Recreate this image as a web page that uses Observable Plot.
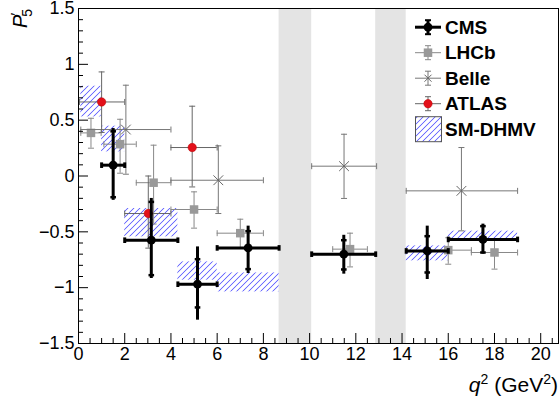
<!DOCTYPE html>
<html><head><meta charset="utf-8">
<script src="https://cdn.jsdelivr.net/npm/d3@7"></script>
<script src="https://cdn.jsdelivr.net/npm/@observablehq/plot@0.6"></script>
<style>body{margin:0;background:#fff} svg{display:block}</style>
</head><body>
<svg width="0" height="0" style="position:absolute">
  <defs>
    <pattern id="smHatch" patternUnits="userSpaceOnUse" width="6" height="6">
      <path d="M0,5.45L5.45,0L6,0L6,0.55L0.55,6L0,6Z M0,0L0.55,0L0,0.55Z M6,5.45L6,6L5.45,6Z" fill="#4646ff" stroke="none"/>
    </pattern>
  </defs>
</svg>
<div id="chart"></div>
<script>
// ---------------- data ----------------
// vetoed charmonium regions (q^2 in GeV^2)
const vetoLo = [8.68, 12.86];
const vetoHi = [10.09, 14.18];

// CMS
const cmsLo = [1, 2, 4.3, 6, 10.09, 14.18, 16];
const cmsHi = [2, 4.3, 6, 8.68, 12.86, 16, 19];
const cmsX  = [1.5, 3.15, 5.15, 7.34, 11.48, 15.09, 17.5];
const cmsY  = [0.097, -0.575, -0.969, -0.644, -0.700, -0.671, -0.568];
const cmsStatHi = [0.40, -0.232, -0.745, -0.494, -0.575, -0.539, -0.449];
const cmsStatLo = [-0.19, -0.888, -1.177, -0.834, -0.837, -0.864, -0.685];
const cmsTotHi  = [0.425, -0.201, -0.635, -0.449, -0.531, -0.449, -0.431];
const cmsTotLo  = [-0.218, -0.918, -1.291, -0.873, -0.879, -0.927, -0.700];

// LHCb
const lhcbLo = [0.1, 1.1, 2.5, 4, 6, 11, 15, 17];
const lhcbHi = [0.98, 2.5, 4, 6, 8, 12.5, 17, 19];
const lhcbX  = [0.54, 1.8, 3.25, 5, 7, 11.75, 16, 18];
const lhcbY  = [0.386, 0.285, -0.06, -0.30, -0.512, -0.655, -0.664, -0.685];
const lhcbErrHi = [0.517, 0.508, 0.276, -0.142, -0.387, -0.512, -0.553, -0.567];
const lhcbErrLo = [0.249, 0.025, -0.43, -0.467, -0.644, -0.814, -0.79, -0.834];

// Belle
const belleLo = [0.1, 4, 10.09, 14.18];
const belleHi = [4, 8, 12.9, 19];
const belleX  = [2.05, 6.05, 11.49, 16.57];
const belleY  = [0.416, -0.038, 0.088, -0.133];
const belleErrHi = [0.813, 0.27, 0.374, 0.255];
const belleErrLo = [0.016, -0.336, -0.201, -0.491];

// ATLAS
const atlasLo = [0.04, 2, 4];
const atlasHi = [2, 4, 6];
const atlasX  = [1.0, 3.02, 4.92];
const atlasY  = [0.663, -0.336, 0.255];
const atlasErrHi = [0.932, 0.0, 0.625];
const atlasErrLo = [0.39, -0.646, -0.098];

// SM-DHMV prediction boxes
const smLo  = [0.1, 1, 2, 4.3, 6, 14.18, 16];
const smHi  = [0.98, 2, 4.3, 6, 8.68, 16, 19];
const smYlo = [0.529, 0.216, -0.545, -0.933, -1.038, -0.760, -0.575];
const smYhi = [0.804, 0.446, -0.291, -0.769, -0.868, -0.626, -0.494];

// axes
const xMajor = [0, 2, 4, 6, 8, 10, 12, 14, 16, 18, 20];
const yMajor = [-1.5, -1, -0.5, 0, 0.5, 1, 1.5];
const legendNames = ["CMS", "LHCb", "Belle", "ATLAS", "SM-DHMV"];

// ---------------- tables ----------------
const veto = vetoLo.map((lo, i) => ({lo, hi: vetoHi[i]}));
const cms = cmsX.map((x, i) => ({x, y: cmsY[i], lo: cmsLo[i], hi: cmsHi[i], shi: cmsStatHi[i], slo: cmsStatLo[i], thi: cmsTotHi[i], tlo: cmsTotLo[i]}));
const mk = (X, Y, LO, HI, EH, EL) => X.map((x, i) => ({x, y: Y[i], lo: LO[i], hi: HI[i], ehi: EH[i], elo: EL[i]}));
const lhcb = mk(lhcbX, lhcbY, lhcbLo, lhcbHi, lhcbErrHi, lhcbErrLo);
const belle = mk(belleX, belleY, belleLo, belleHi, belleErrHi, belleErrLo);
const atlas = mk(atlasX, atlasY, atlasLo, atlasHi, atlasErrHi, atlasErrLo);
const sm = smLo.map((lo, i) => ({lo, hi: smHi[i], ylo: smYlo[i], yhi: smYhi[i]}));

const xMax = 20.77;
const xMinor = d3.range(0, xMax, 0.5).filter(v => v % 2 !== 0);
const yMinor = d3.range(-15, 16).map(v => v / 10).filter(v => Math.abs(v * 2 - Math.round(v * 2)) > 1e-9);

// cap symbols
const capH = {draw(ctx, size) { const r = Math.sqrt(size / Math.PI); ctx.moveTo(-r, 0); ctx.lineTo(r, 0); }};
const capV = {draw(ctx, size) { const r = Math.sqrt(size / Math.PI); ctx.moveTo(0, -r); ctx.lineTo(0, r); }};

function errMarks(data, color, sw) {
  return [
    Plot.ruleY(data, {y: "y", x1: "lo", x2: "hi", stroke: color, strokeWidth: sw}),
    Plot.ruleX(data, {x: "x", y1: "elo", y2: "ehi", stroke: color, strokeWidth: sw}),
    Plot.dot(data, {x: "x", y: "ehi", symbol: capH, r: 3, stroke: color, strokeWidth: sw, fill: "none"}),
    Plot.dot(data, {x: "x", y: "elo", symbol: capH, r: 3, stroke: color, strokeWidth: sw, fill: "none"}),
    Plot.dot(data, {x: "lo", y: "y", symbol: capV, r: 3, stroke: color, strokeWidth: sw, fill: "none"}),
    Plot.dot(data, {x: "hi", y: "y", symbol: capV, r: 3, stroke: color, strokeWidth: sw, fill: "none"})
  ];
}

const FONT = "'Liberation Sans', Arial, Helvetica, sans-serif";

const plot = Plot.plot({
  width: 560, height: 403,
  marginLeft: 78, marginRight: 2, marginTop: 8, marginBottom: 60,
  x: {domain: [0, xMax], label: null},
  y: {domain: [-1.5, 1.5], label: null},
  color: {type: "identity"},
  style: {fontFamily: FONT, fontSize: "18px", background: "white", color: "black"},
  marks: [
    Plot.rect(veto, {x1: "lo", x2: "hi", fill: "#e4e4e4"}),
    Plot.rect(sm, {x1: "lo", x2: "hi", y1: "ylo", y2: "yhi", fill: () => "url(#smHatch)"}),
    // LHCb
    ...errMarks(lhcb, "#888", 1),
    Plot.dot(lhcb, {x: "x", y: "y", symbol: "square", r: 4.8, fill: "#999", stroke: "none"}),
    // Belle
    ...errMarks(belle, "#777", 1),
    Plot.dot(belle, {x: "x", y: "y", symbol: "times", r: 4.5, stroke: "#666", strokeWidth: 1, fill: "none"}),
    // ATLAS
    ...errMarks(atlas, "#666", 1),
    Plot.dot(atlas, {x: "x", y: "y", r: 4.2, fill: "#e3101a", stroke: "#b00", strokeWidth: 0.5}),
    // CMS
    Plot.ruleY(cms, {y: "y", x1: "lo", x2: "hi", stroke: "black", strokeWidth: 3}),
    Plot.ruleX(cms, {x: "x", y1: "tlo", y2: "thi", stroke: "black", strokeWidth: 3}),
    Plot.dot(cms, {x: "x", y: "shi", symbol: capH, r: 2.8, stroke: "black", strokeWidth: 2.5, fill: "none"}),
    Plot.dot(cms, {x: "x", y: "slo", symbol: capH, r: 2.8, stroke: "black", strokeWidth: 2.5, fill: "none"}),
    Plot.dot(cms, {x: "lo", y: "y", symbol: capV, r: 2.8, stroke: "black", strokeWidth: 3, fill: "none"}),
    Plot.dot(cms, {x: "hi", y: "y", symbol: capV, r: 2.8, stroke: "black", strokeWidth: 3, fill: "none"}),
    Plot.dot(cms, {x: "x", y: "y", r: 4.4, fill: "black", stroke: "none"}),
    // frame & axes
    Plot.frame({stroke: "black"}),
    Plot.axisX({ticks: xMajor, tickSize: -10, tickFormat: () => "", label: null}),
    Plot.axisX({ticks: xMinor, tickSize: -5, tickFormat: () => "", label: null}),
    Plot.axisX({ticks: xMajor, tickSize: 0, tickPadding: 4, fontSize: 18, tickFormat: d3.format("~g"), label: null}),
    Plot.axisY({ticks: yMajor, tickSize: -10, tickFormat: () => "", label: null}),
    Plot.axisY({ticks: yMinor, tickSize: -5, tickFormat: () => "", label: null}),
    Plot.axisY({ticks: yMajor, tickSize: 0, tickPadding: 4, fontSize: 18, tickFormat: d3.format("~g"), label: null})
  ]
});

document.getElementById("chart").appendChild(plot);

// ---------------- decorations (legend, titles) ----------------
const svg = d3.select(plot);

const lg = svg.append("g").attr("font-family", FONT).attr("text-anchor", "start");
const lx0 = 415, lx1 = 441, lxc = 428, ltx = 445, lb0 = 33.7, lstep = 25.5;
const legendStyle = [
  {line: "black", w: 3, marker: "cms"},
  {line: "#888", w: 1, marker: "lhcb"},
  {line: "#777", w: 1, marker: "belle"},
  {line: "#666", w: 1, marker: "atlas"},
  {marker: "sm"}
];
legendNames.forEach((name, i) => {
  const base = lb0 + i * lstep, cy = base - 6.5;
  const st = legendStyle[i];
  if (st.marker === "sm") {
    lg.append("rect").attr("x", lx0 + 0.5).attr("y", cy - 12.5).attr("width", lx1 - lx0).attr("height", 25)
      .attr("fill", "url(#smHatch)").attr("stroke", "#555").attr("stroke-width", 1);
  } else {
    lg.append("line").attr("x1", lx0).attr("x2", lx1).attr("y1", cy).attr("y2", cy)
      .attr("stroke", st.line).attr("stroke-width", st.w);
    lg.append("line").attr("x1", lxc).attr("x2", lxc).attr("y1", cy - 7).attr("y2", cy + 7)
      .attr("stroke", st.line).attr("stroke-width", st.w);
    [cy - 7, cy + 7].forEach(yy => lg.append("line").attr("x1", lxc - 3).attr("x2", lxc + 3)
      .attr("y1", yy).attr("y2", yy).attr("stroke", st.line).attr("stroke-width", st.w === 3 ? 2 : 1));
    if (st.marker === "cms") lg.append("circle").attr("cx", lxc).attr("cy", cy).attr("r", 4.4).attr("fill", "black");
    if (st.marker === "lhcb") lg.append("rect").attr("x", lxc - 4.25).attr("y", cy - 4.25).attr("width", 8.5).attr("height", 8.5).attr("fill", "#999");
    if (st.marker === "belle") lg.append("path").attr("d", `M${lxc-3.5},${cy-3.5}L${lxc+3.5},${cy+3.5}M${lxc-3.5},${cy+3.5}L${lxc+3.5},${cy-3.5}`).attr("stroke", "#666").attr("stroke-width", 1);
    if (st.marker === "atlas") lg.append("circle").attr("cx", lxc).attr("cy", cy).attr("r", 4.2).attr("fill", "#e3101a").attr("stroke", "#b00").attr("stroke-width", 0.5);
  }
  lg.append("text").attr("x", ltx).attr("y", base).attr("font-size", 19).attr("font-weight", "bold")
    .attr("text-anchor", "start").attr("fill", "black").text(name);
});

// x title: q^2 (GeV^2)
const xt = svg.append("text").attr("x", 558).attr("y", 391.7).attr("text-anchor", "end")
  .attr("font-family", FONT).attr("font-size", 21).attr("fill", "black");
xt.append("tspan").attr("font-style", "italic").text("q");
xt.append("tspan").attr("font-size", 14).attr("dy", -8).text("2");
xt.append("tspan").attr("dy", 8).text(" (GeV");
xt.append("tspan").attr("font-size", 14).attr("dy", -8).text("2");
xt.append("tspan").attr("dy", 8).text(")");

// y title: P'_5
const yt = svg.append("text").attr("transform", "translate(27,9) rotate(-90)").attr("text-anchor", "end")
  .attr("font-family", FONT).attr("font-size", 20).attr("fill", "black");
yt.append("tspan").attr("font-style", "italic").text("P");
yt.append("tspan").attr("font-size", 15).attr("dx", -1).attr("dy", -6).text("′");
yt.append("tspan").attr("font-size", 14).attr("dx", -4).attr("dy", 11).text("5");
</script>
</body></html>
